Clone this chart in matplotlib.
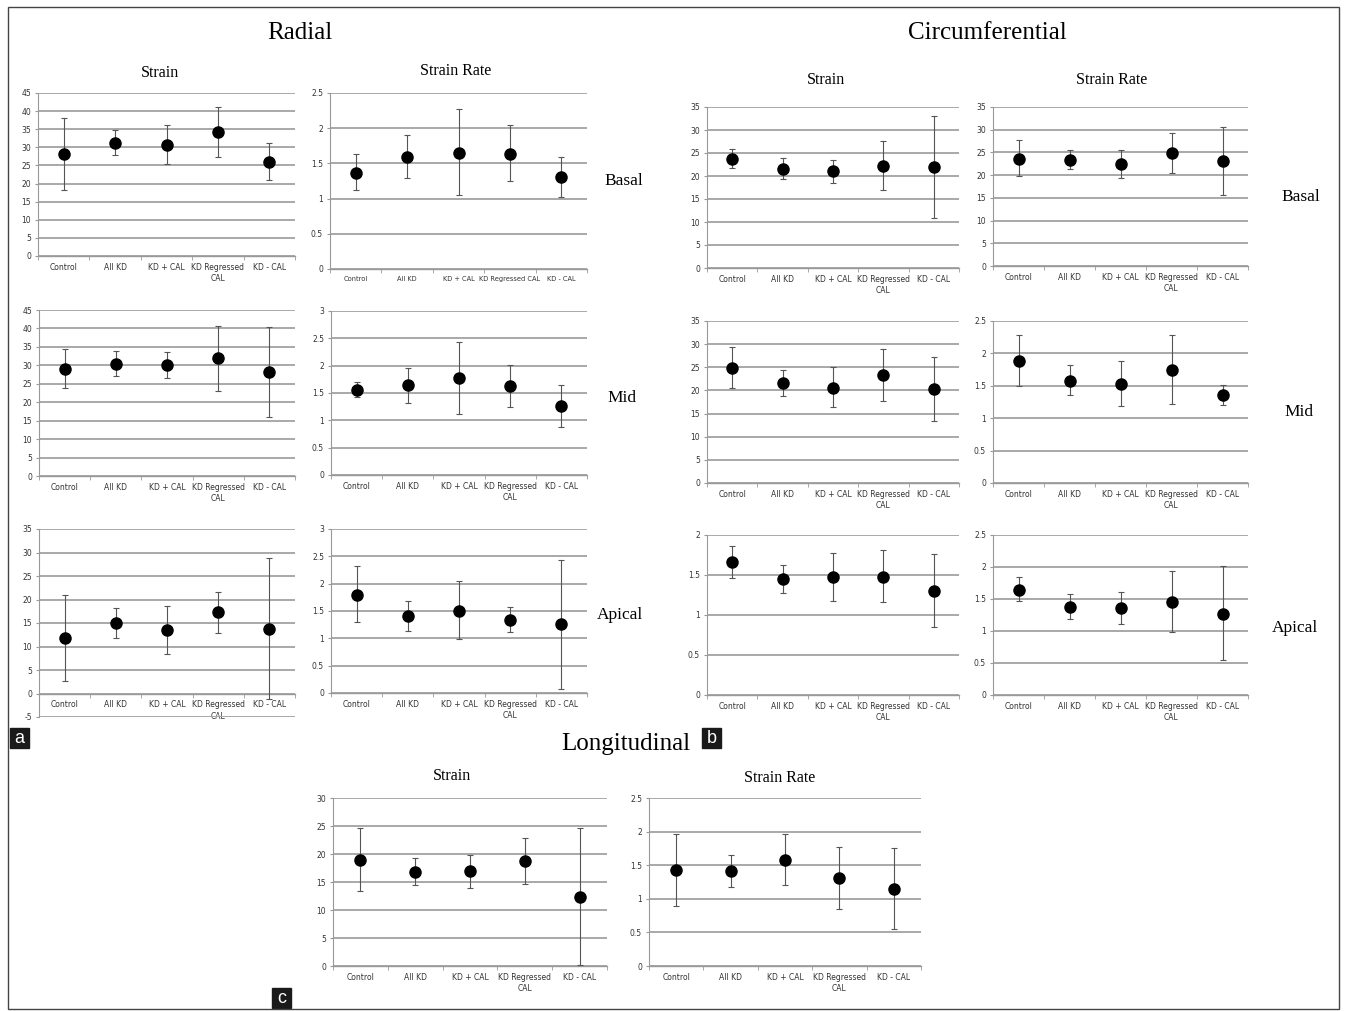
import matplotlib.pyplot as plt
import matplotlib.patches as mpatches
import numpy as np

plt.rcParams["font.family"] = ["Liberation Sans Narrow", "DejaVu Sans"]

W, H = 1346, 1011

groups = ["Control", "All KD", "KD + CAL", "KD Regressed\nCAL", "KD - CAL"]
groups_one_line = ["Control", "All KD", "KD + CAL", "KD Regressed CAL", "KD - CAL"]

#* Radial: mean, lower end, upper end of error bar
rad_s_basal = [28.2, 31.2, 30.7, 34.1, 26.0]
rad_s_basal_lo = [18.3, 27.9, 25.4, 27.4, 21.0]
rad_s_basal_hi = [38.1, 34.7, 36.2, 41.0, 31.2]

rad_sr_basal = [1.37, 1.59, 1.65, 1.64, 1.30]
rad_sr_basal_lo = [1.12, 1.29, 1.05, 1.25, 1.02]
rad_sr_basal_hi = [1.64, 1.90, 2.27, 2.04, 1.59]

rad_s_mid = [29.0, 30.4, 30.1, 31.9, 28.2]
rad_s_mid_lo = [23.8, 27.2, 26.7, 23.1, 16.1]
rad_s_mid_hi = [34.3, 33.9, 33.7, 40.6, 40.5]

rad_sr_mid = [1.56, 1.64, 1.78, 1.63, 1.26]
rad_sr_mid_lo = [1.42, 1.31, 1.12, 1.25, 0.87]
rad_sr_mid_hi = [1.71, 1.96, 2.44, 2.01, 1.65]

rad_s_apical = [11.8, 15.0, 13.5, 17.3, 13.8]
rad_s_apical_lo = [2.6, 11.9, 8.4, 12.9, -1.2]
rad_s_apical_hi = [20.9, 18.1, 18.7, 21.7, 28.9]

rad_sr_apical = [1.80, 1.41, 1.50, 1.34, 1.26]
rad_sr_apical_lo = [1.29, 1.14, 0.98, 1.12, 0.07]
rad_sr_apical_hi = [2.32, 1.68, 2.04, 1.58, 2.44]

#* Circumferential
circ_s_basal = [23.8, 21.5, 21.0, 22.2, 21.9]
circ_s_basal_lo = [21.8, 19.3, 18.4, 16.9, 10.9]
circ_s_basal_hi = [25.9, 23.9, 23.5, 27.7, 33.0]

circ_sr_basal = [23.6, 23.4, 22.5, 24.8, 23.1]
circ_sr_basal_lo = [19.8, 21.3, 19.3, 20.5, 15.6]
circ_sr_basal_hi = [27.7, 25.6, 25.6, 29.3, 30.6]

circ_s_mid = [24.9, 21.5, 20.6, 23.3, 20.3]
circ_s_mid_lo = [20.5, 18.9, 16.4, 17.8, 13.4]
circ_s_mid_hi = [29.4, 24.4, 25.0, 29.0, 27.3]

circ_sr_mid = [1.89, 1.58, 1.53, 1.75, 1.36]
circ_sr_mid_lo = [1.50, 1.36, 1.19, 1.22, 1.21]
circ_sr_mid_hi = [2.29, 1.82, 1.88, 2.28, 1.51]

circ_s_apical = [1.66, 1.45, 1.47, 1.48, 1.30]
circ_s_apical_lo = [1.46, 1.28, 1.18, 1.16, 0.85]
circ_s_apical_hi = [1.86, 1.62, 1.77, 1.81, 1.76]

circ_sr_apical = [1.64, 1.38, 1.36, 1.46, 1.27]
circ_sr_apical_lo = [1.47, 1.18, 1.11, 0.99, 0.54]
circ_sr_apical_hi = [1.84, 1.58, 1.61, 1.94, 2.01]

#* Longitudinal
long_s = [19.0, 16.8, 16.9, 18.8, 12.3]
long_s_lo = [13.4, 14.5, 13.9, 14.7, 0.1]
long_s_hi = [24.6, 19.2, 19.9, 22.9, 24.7]

long_sr = [1.43, 1.41, 1.58, 1.31, 1.15]
long_sr_lo = [0.90, 1.18, 1.21, 0.85, 0.55]
long_sr_hi = [1.97, 1.65, 1.96, 1.77, 1.76]

fig = plt.figure(figsize=(W / 100, H / 100), dpi=100)


def panel(x0, x1, ytop, ybot, ymin, ymax, step, mean, lo, hi, labels=groups, lsize=5.5):
    ax = fig.add_axes([x0 / W, 1 - ybot / H, (x1 - x0) / W, (ybot - ytop) / H])
    x = np.arange(len(mean))
    mean = np.array(mean)
    err = [mean - np.array(lo), np.array(hi) - mean]
    ax.errorbar(x, mean, yerr=err, fmt="o", ms=8, color="black",
                ecolor="#555555", elinewidth=0.8, capsize=2, capthick=0.8, zorder=3)
    ax.set_xlim(-0.5, len(mean) - 0.5)
    ax.set_ylim(ymin, ymax)
    ticks = np.arange(ymin, ymax + step / 2, step)
    ax.set_yticks(ticks)
    ax.set_yticklabels([f"{v:g}" for v in ticks])
    ax.grid(axis="y", color="#a8a8a8", lw=1.4)
    ax.set_axisbelow(True)
    for s in ["top", "right"]:
        ax.spines[s].set_visible(False)
    ax.spines["left"].set_color("#999999")
    ax.spines["left"].set_linewidth(0.8)
    ax.spines["bottom"].set_color("#999999")
    ax.spines["bottom"].set_linewidth(1.0)
    ax.spines["bottom"].set_position(("data", 0))
    ax.set_xticks(x)
    ax.set_xticklabels(labels, fontsize=lsize, color="#333333", linespacing=1.3)
    ax.set_xticks(np.arange(-0.5, len(mean)), minor=True)
    ax.tick_params(axis="x", which="major", length=0, pad=5)
    ax.tick_params(axis="x", which="minor", length=3, color="#999999")
    ax.tick_params(axis="y", length=2, color="#999999", labelsize=5.5,
                   labelcolor="#333333", pad=3)
    return ax


# Radial
panel(38, 295, 93, 256, 0, 45, 5, rad_s_basal, rad_s_basal_lo, rad_s_basal_hi)
panel(330, 587, 93, 269, 0, 2.5, 0.5, rad_sr_basal, rad_sr_basal_lo, rad_sr_basal_hi,
      labels=groups_one_line, lsize=4.8)
panel(39, 295, 310, 476, 0, 45, 5, rad_s_mid, rad_s_mid_lo, rad_s_mid_hi)
panel(331, 587, 311, 475, 0, 3, 0.5, rad_sr_mid, rad_sr_mid_lo, rad_sr_mid_hi)
panel(39, 295, 529, 717, -5, 35, 5, rad_s_apical, rad_s_apical_lo, rad_s_apical_hi)
panel(331, 587, 529, 693, 0, 3, 0.5, rad_sr_apical, rad_sr_apical_lo, rad_sr_apical_hi)

# Circumferential
panel(707, 959, 107, 268, 0, 35, 5, circ_s_basal, circ_s_basal_lo, circ_s_basal_hi)
panel(993, 1248, 107, 266, 0, 35, 5, circ_sr_basal, circ_sr_basal_lo, circ_sr_basal_hi)
panel(707, 959, 321, 483, 0, 35, 5, circ_s_mid, circ_s_mid_lo, circ_s_mid_hi)
panel(993, 1248, 321, 483, 0, 2.5, 0.5, circ_sr_mid, circ_sr_mid_lo, circ_sr_mid_hi)
panel(707, 959, 535, 695, 0, 2, 0.5, circ_s_apical, circ_s_apical_lo, circ_s_apical_hi)
panel(993, 1248, 535, 695, 0, 2.5, 0.5, circ_sr_apical, circ_sr_apical_lo, circ_sr_apical_hi)

# Longitudinal
panel(333, 607, 798, 966, 0, 30, 5, long_s, long_s_lo, long_s_hi)
panel(649, 921, 798, 966, 0, 2.5, 0.5, long_sr, long_sr_lo, long_sr_hi)


def ftext(x, y, s, size, **kw):
    fig.text(x / W, 1 - y / H, s, fontsize=size, ha="center", va="center",
             family=["Liberation Serif", "DejaVu Serif"], **kw)


ftext(300, 33, "Radial", 18)
ftext(987, 33, "Circumferential", 18)
ftext(626, 744, "Longitudinal", 18)

for tx, ty, t in [(160, 73, "Strain"), (456, 71, "Strain Rate"), (826, 80, "Strain"),
                  (1112, 80, "Strain Rate"), (452, 776, "Strain"), (780, 778, "Strain Rate")]:
    ftext(tx, ty, t, 11.5)

for tx, ty, t in [(624, 181, "Basal"), (622, 398, "Mid"), (620, 615, "Apical"),
                  (1301, 197, "Basal"), (1299, 412, "Mid"), (1295, 628, "Apical")]:
    ftext(tx, ty, t, 12.5)

# panel letters in black boxes
for letter, bx, by in [("a", 10, 728), ("b", 702, 728), ("c", 272, 988)]:
    fig.patches.append(mpatches.Rectangle((bx / W, 1 - (by + 20) / H), 19 / W, 20 / H,
                                          transform=fig.transFigure, color="#1a1a1a"))
    fig.text((bx + 9.5) / W, 1 - (by + 10.5) / H, letter, fontsize=13, color="white",
             ha="center", va="center", family=["Liberation Sans", "DejaVu Sans"])

# outer frame
fig.patches.append(mpatches.Rectangle((8 / W, 1 - 1009 / H), 1331 / W, 1002 / H,
                                      transform=fig.transFigure, fill=False,
                                      ec="#444444", lw=1.0))

fig.savefig("out.png", dpi=100)
